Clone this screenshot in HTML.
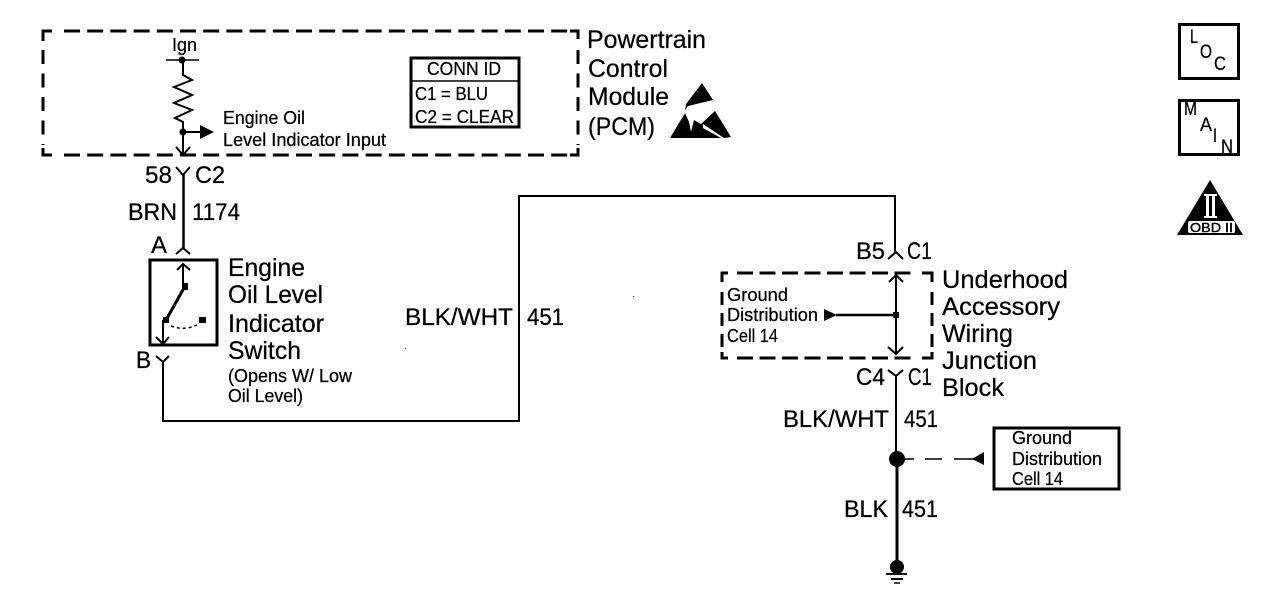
<!DOCTYPE html>
<html>
<head>
<meta charset="utf-8">
<style>
html,body{margin:0;padding:0;background:#fff;width:1280px;height:596px;overflow:hidden}
svg{display:block}
text{font-family:"Liberation Sans",sans-serif;fill:#000;stroke:#000;stroke-width:.25}
.l{font-size:25px}
.m{font-size:24px}
.s{font-size:18px}
.c{font-size:19px}
line,path.w{stroke:#000;fill:none}
</style>
</head>
<body>
<svg width="1280" height="596" viewBox="0 0 1280 596" xmlns="http://www.w3.org/2000/svg">
<rect width="1280" height="596" fill="#fff"/>

<!-- PCM dashed box -->
<g stroke="#000" stroke-width="3" fill="none">
<path d="M43 41V31H52"/>
<path d="M64 31H570" stroke-dasharray="16 7.2"/>
<path d="M570 31H578V39"/>
<path d="M43 50V145" stroke-dasharray="14 9.5"/>
<path d="M578 50V145" stroke-dasharray="14 9.5"/>
<path d="M43 148V155H52"/>
<path d="M64 155H570" stroke-dasharray="16 7.2"/>
<path d="M570 155H578V148"/>
</g>

<!-- PCM internals -->
<text class="s" x="172" y="51" textLength="25" lengthAdjust="spacingAndGlyphs">Ign</text>
<g stroke="#000" fill="none">
<path d="M166 60H199" stroke-width="1.5"/>
<path d="M183 60V75L192 80L174 87L192 95L174 103L192 110L175 118L183 122V155" stroke-width="2"/>
<path d="M183 132H201" stroke-width="2"/>
<path d="M176 147L183 155L190 147" stroke-width="2"/>
</g>
<circle cx="182" cy="60" r="3.5"/>
<circle cx="183" cy="132" r="3.5"/>
<polygon points="200,125 214,132 200,139"/>
<text class="s" x="223" y="124" textLength="82" lengthAdjust="spacingAndGlyphs">Engine Oil</text>
<text class="s" x="223" y="146" textLength="163" lengthAdjust="spacingAndGlyphs">Level Indicator Input</text>

<!-- CONN ID -->
<rect x="411" y="58" width="108" height="69" fill="none" stroke="#000" stroke-width="3"/>
<path d="M411 81H519" stroke="#000" stroke-width="1.5"/>
<text class="s" x="427" y="75" textLength="74" lengthAdjust="spacingAndGlyphs">CONN ID</text>
<text class="s" x="415" y="100" textLength="73" lengthAdjust="spacingAndGlyphs">C1 = BLU</text>
<text class="s" x="415" y="123" textLength="99" lengthAdjust="spacingAndGlyphs">C2 = CLEAR</text>

<!-- PCM label -->
<text class="l" x="587" y="48" textLength="119" lengthAdjust="spacingAndGlyphs">Powertrain</text>
<text class="l" x="588" y="77" textLength="80" lengthAdjust="spacingAndGlyphs">Control</text>
<text class="l" x="588" y="105" textLength="81" lengthAdjust="spacingAndGlyphs">Module</text>
<text class="l" x="588" y="135" textLength="67" lengthAdjust="spacingAndGlyphs">(PCM)</text>

<!-- ESD symbol -->
<polygon points="702,83 713,100 688,106 685,110 686,104"/>
<polygon points="670,138 685,113 689,122 691,132 694,120 701,124 715,111 731,137 724,138 703,124 703,128 721,138"/>

<!-- Connector 58 C2 / wire -->
<text class="m" x="145" y="183" textLength="27" lengthAdjust="spacingAndGlyphs">58</text>
<text class="m" x="195" y="183" textLength="30" lengthAdjust="spacingAndGlyphs">C2</text>
<g stroke="#000" fill="none" stroke-width="2">
<path d="M176 167L183 175L190 167"/>
<path d="M183.500 175V249" stroke-width="2.500"/>
<path d="M176 254L183 248L190 254"/>
</g>
<text class="m" x="128" y="220" textLength="49" lengthAdjust="spacingAndGlyphs">BRN</text>
<text class="m" x="192" y="220" textLength="48" lengthAdjust="spacingAndGlyphs">1174</text>
<text class="m" x="151" y="253" textLength="16" lengthAdjust="spacingAndGlyphs">A</text>

<!-- Switch -->
<rect x="150" y="260" width="67" height="85" fill="none" stroke="#000" stroke-width="3"/>
<g stroke="#000" fill="none" stroke-width="2">
<path d="M183 264V286"/>
<path d="M177 270L183 264L190 270"/>
<path d="M184 288L166 320" stroke-width="3"/>
<path d="M163 320V344"/>
<path d="M156 337L163 344L169 337"/>
<path d="M171 326Q184 331 197 325" stroke-dasharray="3 3" stroke-width="1.500"/>
</g>
<rect x="182" y="283" width="6" height="7"/>
<rect x="163" y="317" width="6" height="6"/>
<rect x="199" y="317" width="7" height="6"/>

<text class="l" x="228" y="276" textLength="77" lengthAdjust="spacingAndGlyphs">Engine</text>
<text class="l" x="228" y="303" textLength="95" lengthAdjust="spacingAndGlyphs">Oil Level</text>
<text class="l" x="228" y="332" textLength="96" lengthAdjust="spacingAndGlyphs">Indicator</text>
<text class="l" x="228" y="359" textLength="73" lengthAdjust="spacingAndGlyphs">Switch</text>
<text class="s" x="228" y="382" textLength="124" lengthAdjust="spacingAndGlyphs">(Opens W/ Low</text>
<text class="s" x="228" y="402" textLength="75" lengthAdjust="spacingAndGlyphs">Oil Level)</text>

<text class="m" x="136" y="368" textLength="15" lengthAdjust="spacingAndGlyphs">B</text>
<g stroke="#000" fill="none" stroke-width="2">
<path d="M156 356L163 362L169 356"/>
<path d="M163 362V421H519V196H895V252"/>
<path d="M888 259L896 252L903 259"/>
</g>
<text class="m" x="405" y="325" textLength="108" lengthAdjust="spacingAndGlyphs">BLK/WHT</text>
<text class="m" x="527" y="325" textLength="37" lengthAdjust="spacingAndGlyphs">451</text>

<!-- B5 C1 -->
<text class="m" x="856" y="259" textLength="29" lengthAdjust="spacingAndGlyphs">B5</text>
<text class="m" x="907" y="259" textLength="25" lengthAdjust="spacingAndGlyphs">C1</text>

<!-- Underhood dashed box -->
<g stroke="#000" stroke-width="3" fill="none">
<path d="M722 282V273H728"/>
<path d="M737 273H915" stroke-dasharray="16 6.500"/>
<path d="M922 273H932V282"/>
<path d="M932 292V349" stroke-dasharray="13 8"/>
<path d="M722 292V349" stroke-dasharray="13 8"/>
<path d="M722 352V358H728"/>
<path d="M737 358H915" stroke-dasharray="16 6.500"/>
<path d="M922 358H932V352"/>
</g>
<g stroke="#000" fill="none" stroke-width="2">
<path d="M896 275V354"/>
<path d="M889 282L896 275L903 282"/>
<path d="M888 347L896 354L903 347"/>
<path d="M836 315H896" stroke-width="2.500"/>
</g>
<rect x="893" y="312" width="6" height="6"/>
<polygon points="824,309 837,315 824,321"/>
<text class="s" x="727" y="301" textLength="61" lengthAdjust="spacingAndGlyphs">Ground</text>
<text class="s" x="727" y="321" textLength="91" lengthAdjust="spacingAndGlyphs">Distribution</text>
<text class="s" x="727" y="342" textLength="51" lengthAdjust="spacingAndGlyphs">Cell 14</text>

<text class="l" x="942" y="288" textLength="126" lengthAdjust="spacingAndGlyphs">Underhood</text>
<text class="l" x="942" y="315" textLength="118" lengthAdjust="spacingAndGlyphs">Accessory</text>
<text class="l" x="942" y="342" textLength="71" lengthAdjust="spacingAndGlyphs">Wiring</text>
<text class="l" x="942" y="369" textLength="95" lengthAdjust="spacingAndGlyphs">Junction</text>
<text class="l" x="942" y="396" textLength="62" lengthAdjust="spacingAndGlyphs">Block</text>

<!-- C4 C1 / lower wire -->
<text class="m" x="856" y="385" textLength="29" lengthAdjust="spacingAndGlyphs">C4</text>
<text class="m" x="908" y="385" textLength="24" lengthAdjust="spacingAndGlyphs">C1</text>
<g stroke="#000" fill="none">
<path d="M888 370L896 376L903 370" stroke-width="2"/>
<path d="M896 376V452" stroke-width="2"/>
<path d="M897 459V566" stroke-width="3"/>
<path d="M905 459H914M925 459H942M954 459H974" stroke-width="1.500"/>
<path d="M886 574H907" stroke-width="2"/>
<path d="M891 579H903" stroke-width="2"/>
<path d="M894 583H900" stroke-width="1.500"/>
</g>
<circle cx="897" cy="459" r="8"/>
<circle cx="897" cy="567" r="7"/>
<polygon points="972,459 984,452 984,465"/>
<text class="m" x="783" y="427" textLength="106" lengthAdjust="spacingAndGlyphs">BLK/WHT</text>
<text class="m" x="904" y="427" textLength="34" lengthAdjust="spacingAndGlyphs">451</text>
<text class="m" x="844" y="517" textLength="44" lengthAdjust="spacingAndGlyphs">BLK</text>
<text class="m" x="902" y="517" textLength="36" lengthAdjust="spacingAndGlyphs">451</text>

<!-- Ground Distribution box -->
<rect x="994" y="428" width="125" height="61" fill="none" stroke="#000" stroke-width="3"/>
<text class="s" x="1012" y="444" textLength="60" lengthAdjust="spacingAndGlyphs">Ground</text>
<text class="s" x="1012" y="465" textLength="90" lengthAdjust="spacingAndGlyphs">Distribution</text>
<text class="s" x="1012" y="485" textLength="51" lengthAdjust="spacingAndGlyphs">Cell 14</text>

<!-- LOC -->
<rect x="1179.500" y="24.500" width="59" height="54" fill="none" stroke="#000" stroke-width="3"/>
<text class="c" x="1190" y="43" textLength="8" lengthAdjust="spacingAndGlyphs">L</text>
<text class="c" x="1200" y="58" textLength="12" lengthAdjust="spacingAndGlyphs">O</text>
<text class="c" x="1214" y="70" textLength="12" lengthAdjust="spacingAndGlyphs">C</text>

<!-- MAIN -->
<rect x="1179.500" y="100.500" width="59" height="54" fill="none" stroke="#000" stroke-width="3"/>
<text class="c" x="1184" y="115" textLength="13" lengthAdjust="spacingAndGlyphs">M</text>
<text class="c" x="1200" y="131" textLength="12" lengthAdjust="spacingAndGlyphs">A</text>
<text class="c" x="1213" y="142" textLength="4" lengthAdjust="spacingAndGlyphs">I</text>
<text class="c" x="1221" y="153" textLength="12" lengthAdjust="spacingAndGlyphs">N</text>

<!-- OBD II -->
<polygon points="1210,180 1243,235 1177,235"/>
<g fill="#fff">
<rect x="1204" y="194" width="13" height="2"/>
<rect x="1204" y="216" width="13" height="2"/>
<rect x="1206" y="196" width="3" height="20"/>
<rect x="1212" y="196" width="3" height="20"/>
<rect x="1188" y="221" width="47" height="12" rx="2"/>
</g>
<text x="1190" y="232" style="font-size:13px;stroke-width:.4" textLength="43" lengthAdjust="spacingAndGlyphs">OBD II</text>

<!-- specks -->
<rect x="633" y="296" width="1" height="1"/>
<rect x="405" y="348" width="1" height="1"/>
</svg>
</body>
</html>
